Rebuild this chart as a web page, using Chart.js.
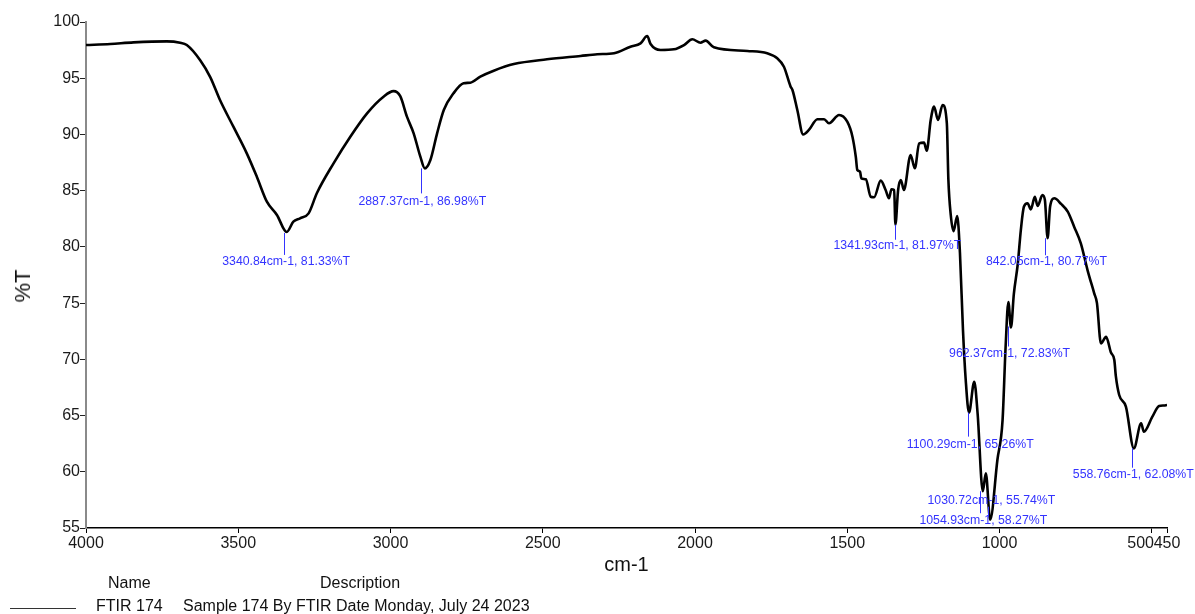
<!DOCTYPE html>
<html>
<head>
<meta charset="utf-8">
<title>FTIR 174</title>
<script src="https://cdn.jsdelivr.net/npm/chart.js@4.4.1/dist/chart.umd.min.js"></script>
<style>
  html, body { margin: 0; padding: 0; background: #fff; }
  #wrap { position: relative; width: 1195px; height: 614px; overflow: hidden; }
  #spec { position: absolute; left: 0; top: 0; }
  .leg { position: absolute; font: 16px "Liberation Sans", Arial, sans-serif; color: #111; white-space: nowrap; line-height: 18px; }
  #legLine { position: absolute; left: 10px; top: 608px; width: 66px; height: 0; border-top: 1px solid #333; }
  #yTitle { position: absolute; left: 22.5px; top: 285.5px; font: 22px "Liberation Sans", Arial, sans-serif; color: #111;
            line-height: 22px; white-space: nowrap; transform: translate(-50%, -50%) rotate(-90deg); }
</style>
</head>
<body>
<div id="wrap">
  <canvas id="spec" width="1195" height="614"></canvas>
  <div id="yTitle">%T</div>
  <div class="leg" style="left:108px; top:574px;">Name</div>
  <div class="leg" style="left:320px; top:574px;">Description</div>
  <div id="legLine"></div>
  <div class="leg" style="left:96px; top:597px;">FTIR 174</div>
  <div class="leg" style="left:183px; top:597px;">Sample 174 By FTIR Date Monday, July 24 2023</div>
</div>
<script>
(() => {
  "use strict";

  // Spectrum (wavenumber, cm-1 -> %T)
  const WAVENUMBER = [
    4000, 3920, 3844, 3735, 3691, 3669, 3625, 3592, 3560, 3516, 3472, 3439, 3406, 3373,
    3340.84, 3319, 3297, 3269, 3242, 3187, 3132, 3077, 3023, 2990, 2968, 2946, 2924, 2902,
    2887.37, 2869, 2847, 2825, 2793, 2760, 2738, 2705, 2661, 2595, 2486, 2376, 2321, 2266,
    2212, 2179, 2157, 2146, 2113, 2069, 2036, 2009, 1982, 1965, 1938, 1828, 1763, 1730,
    1708, 1686, 1680, 1664, 1645, 1626, 1598, 1576, 1560, 1527, 1500, 1483, 1472, 1467,
    1458, 1454, 1439, 1423, 1412, 1390, 1374, 1363, 1355, 1346, 1341.93, 1333, 1324, 1314,
    1292, 1278, 1264, 1248, 1239, 1226, 1215, 1202, 1187, 1173, 1168, 1160, 1151, 1139,
    1130, 1120, 1111, 1100.29, 1083, 1072, 1054.93, 1045, 1030.72, 1007, 990, 980, 971,
    962.37, 953, 940, 930, 920, 908, 897, 884, 875, 859, 851, 842.05, 834, 820, 798, 776,
    755, 733, 711, 689, 680, 667, 650, 634, 623, 618, 607, 585, 558.76, 535, 526, 498, 476,
    460, 450
  ];
  const TRANSMITTANCE = [
    97.95, 98.05, 98.19, 98.28, 98.16, 97.95, 96.6, 95.1, 93.06, 90.69, 88.32, 86.24, 84.02, 82.84,
    81.33, 82.24, 82.54, 82.98, 84.77, 87.43, 89.8, 91.88, 93.36, 93.85, 93.4, 91.58, 90.1, 88.02,
    86.98, 87.73, 90.1, 92.17, 93.66, 94.55, 94.6, 95.14, 95.67, 96.26, 96.68, 96.98, 97.13, 97.22,
    97.8, 98.1, 98.75, 98.04, 97.51, 97.57, 97.95, 98.46, 98.16, 98.34, 97.75, 97.42, 97.22, 96.77,
    96.02, 94.25, 93.95, 92.17, 90.0, 90.4, 91.35, 91.35, 90.99, 91.73, 91.13, 89.8, 88.02, 86.84,
    86.69, 86.1, 86.01, 84.46, 84.41, 85.89, 85.06, 84.32, 85.12, 85.06, 81.97, 85.06, 85.95, 85.06,
    88.17, 86.99, 89.21, 89.27, 88.56, 91.28, 92.47, 91.28, 92.62, 90.99, 86.0, 82.8, 81.4, 82.75,
    79.5, 72.6, 68.16, 65.26, 68.01, 65.2, 58.27, 59.86, 55.74, 61.05, 64.6, 71.12, 75.1,
    72.83, 75.8, 78.5, 81.5, 83.57, 83.88, 83.34, 84.46, 83.64, 84.61, 84.17, 80.77, 83.57, 84.32, 83.82, 83.13,
    81.8, 80.32, 77.94, 75.87, 75.0, 71.42, 72.0, 70.6, 69.94, 68.5, 66.83, 65.79, 62.08, 64.31, 63.56, 64.9, 65.85,
    65.9, 65.94
  ];

  const X_TICKS = [4000, 3500, 3000, 2500, 2000, 1500, 1000, 500, 450];
  const Y_TICKS = [55, 60, 65, 70, 75, 80, 85, 90, 95, 100];

  // Picked peaks
  const PEAK_WN = [3340.84, 2887.37, 1341.93, 842.05, 962.37, 1100.29, 558.76, 1030.72, 1054.93];
  const PEAK_T = [81.33, 86.98, 81.97, 80.77, 72.83, 65.26, 62.08, 55.74, 58.27];
  // [text dx, text dy, line dx, line y0, line y1] relative to the peak pixel
  const LABEL_OFFSETS = [
    [-0.6, 29.8, -2.7, 1, 23],
    [-2.5, 33.3, -3.8, 0, 25],
    [2, 21, -0.5, 0, 15],
    [-1.2, 23.5, -2.7, 0, 17],
    [-1.4, 25.8, -3.4, -1, 19],
    [1.3, 31.7, -0.9, 0, 24],
    [-0.6, 25.9, -2.2, 0, 19.3],
    [1.2, -19, -1.8, -13, -3],
    [0.5, 29, -2.7, 0, 22],
  ];

  const FONT = "'Liberation Sans', Arial, sans-serif";
  const BLUE = "#3434ff";

  const peakLabels = {
    id: "peakLabels",
    afterDatasetsDraw(chart) {
      const { ctx, scales: { x, y } } = chart;
      ctx.save();
      ctx.font = "12.3px " + FONT;
      ctx.textAlign = "center";
      ctx.textBaseline = "middle";
      ctx.fillStyle = BLUE;
      ctx.strokeStyle = BLUE;
      ctx.lineWidth = 1;
      PEAK_WN.forEach((wn, i) => {
        const [tdx, tdy, ldx, ly0, ly1] = LABEL_OFFSETS[i];
        const px = x.getPixelForValue(wn);
        const py = y.getPixelForValue(PEAK_T[i]);
        ctx.beginPath();
        ctx.moveTo(Math.round(px + ldx) + 0.5, py + ly0);
        ctx.lineTo(Math.round(px + ldx) + 0.5, py + ly1);
        ctx.stroke();
        ctx.fillText(`${wn.toFixed(2)}cm-1, ${PEAK_T[i].toFixed(2)}%T`, px + tdx, py + tdy);
      });
      ctx.restore();
    },
  };

  // the software butts "500" against "450" at the right end
  const xLabel = (v) => (v === 500 ? "500     " : String(v));

  new Chart(document.getElementById("spec"), {
    type: "line",
    data: {
      datasets: [{
        data: WAVENUMBER.map((w, i) => ({ x: w, y: TRANSMITTANCE[i] })),
        borderColor: "#000",
        borderWidth: 2.6,
        pointRadius: 0,
        cubicInterpolationMode: "monotone",
        fill: false,
      }],
    },
    options: {
      responsive: false,
      animation: false,
      events: [],
      layout: { padding: { left: 0, top: 22, right: 28, bottom: 37 } },
      plugins: { legend: { display: false }, tooltip: { enabled: false } },
      scales: {
        x: {
          type: "linear",
          reverse: true,
          min: 450,
          max: 4000,
          afterBuildTicks: (s) => { s.ticks = X_TICKS.map((v) => ({ value: v })); },
          afterFit: (s) => { s.height = 49; },
          ticks: { autoSkip: false, maxRotation: 0, padding: 1, color: "#1a1a1a", font: { family: FONT, size: 16 }, callback: xLabel },
          grid: { drawOnChartArea: false, tickLength: 5, color: "#000" },
          border: { color: "#000", width: 1.5 },
          title: { display: true, text: "cm-1", color: "#111", font: { family: FONT, size: 20 }, padding: { top: 0, bottom: 0 } },
        },
        y: {
          min: 55,
          max: 100,
          afterBuildTicks: (s) => { s.ticks = Y_TICKS.map((v) => ({ value: v })); },
          afterFit: (s) => { s.width = 86; },
          ticks: { padding: 0, color: "#1a1a1a", font: { family: FONT, size: 16 }, callback: (v) => String(v) },
          grid: { drawOnChartArea: false, tickLength: 6, color: "#222" },
          border: { color: "#8a8a8a", width: 2 },
        },
      },
    },
    plugins: [peakLabels],
  });
})();
</script>
</body>
</html>
